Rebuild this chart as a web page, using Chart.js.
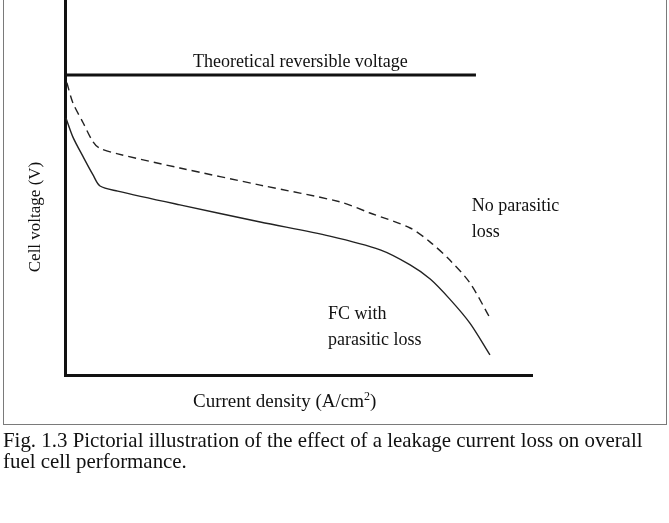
<!DOCTYPE html>
<html>
<head>
<meta charset="utf-8">
<script src="https://cdn.jsdelivr.net/npm/chart.js@4"></script>
<style>
  html, body { margin: 0; padding: 0; background: #fff; }
  #wrap { position: relative; width: 669px; height: 523px; overflow: hidden; }
  #frame { position: absolute; left: 3px; top: -2px; width: 662px; height: 425px; border: 1px solid #7a7a7a; box-sizing: content-box; }
  #c { position: absolute; left: 0; top: 0; }
  #caption { position: absolute; left: 3px; top: 430px; font-family: "Liberation Serif", "Times New Roman", serif; font-size: 20.9px; line-height: 21px; color: #111; white-space: nowrap; }
</style>
</head>
<body>
<div id="wrap">
  <div id="frame"></div>
  <canvas id="c" width="669" height="430"></canvas>
  <div id="caption">Fig. 1.3 Pictorial illustration of the effect of a leakage current loss on overall<br>fuel cell performance.</div>
</div>
<script>
// Current density (arbitrary, fraction of axis length) and cell voltage (relative to theoretical = 1)
const noLossX = [0.004, 0.017, 0.039, 0.060, 0.073, 0.113, 0.246, 0.418, 0.589, 0.653, 0.739, 0.782, 0.824, 0.867, 0.910];
const noLossV = [0.974, 0.907, 0.840, 0.777, 0.757, 0.737, 0.690, 0.633, 0.577, 0.540, 0.490, 0.443, 0.383, 0.307, 0.190];
const lossX   = [0.002, 0.017, 0.039, 0.060, 0.075, 0.113, 0.246, 0.418, 0.567, 0.675, 0.739, 0.782, 0.824, 0.867, 0.910];
const lossV   = [0.857, 0.793, 0.727, 0.667, 0.630, 0.613, 0.567, 0.510, 0.463, 0.417, 0.367, 0.320, 0.253, 0.173, 0.067];
const theoryX = [0, 0.88];
const theoryV = [1.0, 1.0];
const xMax = 1.0;
const yMax = 1.25;

const pts = (xs, ys) => xs.map((x, i) => ({ x: x, y: ys[i] }));
const SERIF = '"Liberation Serif", "Times New Roman", serif';

const labelsPlugin = {
  id: 'labels',
  afterDraw(chart) {
    const ctx = chart.ctx;
    const xs = chart.scales.x, ys = chart.scales.y;
    const px = v => xs.getPixelForValue(v);
    const py = v => ys.getPixelForValue(v);
    ctx.save();
    ctx.fillStyle = '#111';
    ctx.font = '18px ' + SERIF;
    ctx.textBaseline = 'alphabetic';
    ctx.textAlign = 'left';
    // Theoretical line label
    ctx.fillText('Theoretical reversible voltage', px(0.274), py(1.0) - 8);
    // Curve labels
    ctx.fillText('No parasitic', px(0.871), py(0.547));
    ctx.fillText('loss', px(0.871), py(0.460));
    ctx.fillText('FC with', px(0.563), py(0.187));
    ctx.fillText('parasitic loss', px(0.563), py(0.100));
    // X axis title with superscript
    const bx = 193, by = 407;
    const t1 = 'Current density (A/cm';
    ctx.font = '19px ' + SERIF;
    ctx.fillText(t1, bx, by);
    let w = ctx.measureText(t1).width;
    ctx.font = '12px ' + SERIF;
    ctx.fillText('2', bx + w, by - 7);
    const w2 = ctx.measureText('2').width;
    ctx.font = '19px ' + SERIF;
    ctx.fillText(')', bx + w + w2, by);
    // Y axis title, rotated
    ctx.font = '17px ' + SERIF;
    ctx.translate(40, 217);
    ctx.rotate(-Math.PI / 2);
    ctx.textAlign = 'center';
    ctx.fillText('Cell voltage (V)', 0, 0);
    ctx.restore();
  }
};

new Chart(document.getElementById('c'), {
  type: 'scatter',
  data: {
    datasets: [
      { label: 'Theoretical reversible voltage', data: pts(theoryX, theoryV), showLine: true, borderColor: '#111', borderWidth: 3, pointRadius: 0, tension: 0 },
      { label: 'No parasitic loss', data: pts(noLossX, noLossV), showLine: true, borderColor: '#222', borderWidth: 1.4, borderDash: [8, 5], pointRadius: 0, tension: 0.3 },
      { label: 'FC with parasitic loss', data: pts(lossX, lossV), showLine: true, borderColor: '#222', borderWidth: 1.4, pointRadius: 0, tension: 0.3 }
    ]
  },
  options: {
    responsive: false,
    animation: false,
    layout: { padding: { left: 65, right: 137, top: 0, bottom: 55 } },
    plugins: { legend: { display: false }, tooltip: { enabled: false } },
    scales: {
      x: { type: 'linear', min: 0, max: xMax, grid: { display: false, drawTicks: false }, ticks: { display: false }, border: { display: true, color: '#111', width: 3 } },
      y: { type: 'linear', min: 0, max: yMax, grid: { display: false, drawTicks: false }, ticks: { display: false }, border: { display: true, color: '#111', width: 3 } }
    }
  },
  plugins: [labelsPlugin]
});
</script>
</body>
</html>
